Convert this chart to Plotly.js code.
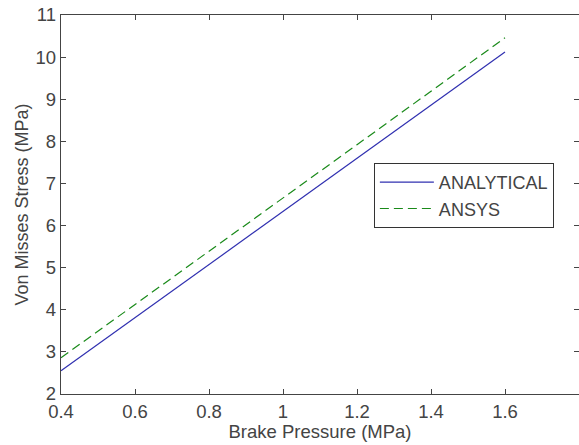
<!DOCTYPE html>
<html>
<head>
<meta charset="utf-8">
<script src="https://cdn.plot.ly/plotly-3.0.1.min.js"></script>
<style>html,body{margin:0;padding:0;background:#fff}#chart{width:579px;height:445px}</style>
</head>
<body>
<div id="chart"></div>
<script>
var pressure = [0.4, 0.6, 0.8, 1.0, 1.2, 1.4, 1.6];
var analytical = [2.55, 3.81, 5.07, 6.33, 7.60, 8.86, 10.12];
var ansys = [2.86, 4.12, 5.39, 6.66, 7.92, 9.19, 10.46];
var xTicks = [0.4, 0.6, 0.8, 1, 1.2, 1.4, 1.6];
var xTickText = ['0.4', '0.6', '0.8', '1', '1.2', '1.4', '1.6'];
var yTicks = [2, 3, 4, 5, 6, 7, 8, 9, 10, 11];

var fontFamily = '"Liberation Sans", Arial, sans-serif';
var ink = '#444444';

var traces = [
  {x: pressure, y: analytical, name: 'ANALYTICAL', type: 'scatter', mode: 'lines',
   line: {color: '#3030b0', width: 1.2}},
  {x: pressure, y: ansys, name: 'ANSYS', type: 'scatter', mode: 'lines',
   line: {color: '#1a8a1a', width: 1.2, dash: '9px,5px'}}
];

var axisCommon = {
  showgrid: false, zeroline: false, showline: true, mirror: 'ticks',
  linecolor: ink, linewidth: 1.3, ticks: 'inside', ticklen: 5, tickcolor: ink, tickwidth: 1,
  tickfont: {family: fontFamily, size: 18.5, color: ink}
};

var layout = {
  width: 579, height: 445,
  margin: {l: 61, r: 0, t: 15, b: 51},
  paper_bgcolor: '#ffffff', plot_bgcolor: '#ffffff',
  showlegend: true,
  legend: {x: 0.604, y: 0.524, xanchor: 'left', yanchor: 'middle',
           bordercolor: '#333333', borderwidth: 1, bgcolor: '#ffffff',
           font: {family: fontFamily, size: 18, color: ink},
           tracegroupgap: 0, itemwidth: 54},
  xaxis: Object.assign({}, axisCommon, {
    range: [0.4, 1.8], tickmode: 'array', tickvals: xTicks, ticktext: xTickText,
    title: {text: 'Brake Pressure (MPa)', font: {family: fontFamily, size: 18.5, color: ink}, standoff: 4}
  }),
  yaxis: Object.assign({}, axisCommon, {
    range: [2, 11], tickmode: 'array', tickvals: yTicks,
    title: {text: 'Von Misses Stress (MPa)', font: {family: fontFamily, size: 18, color: ink}, standoff: 2}
  })
};

Plotly.newPlot('chart', traces, layout, {displayModeBar: false, staticPlot: true});
</script>
</body>
</html>
